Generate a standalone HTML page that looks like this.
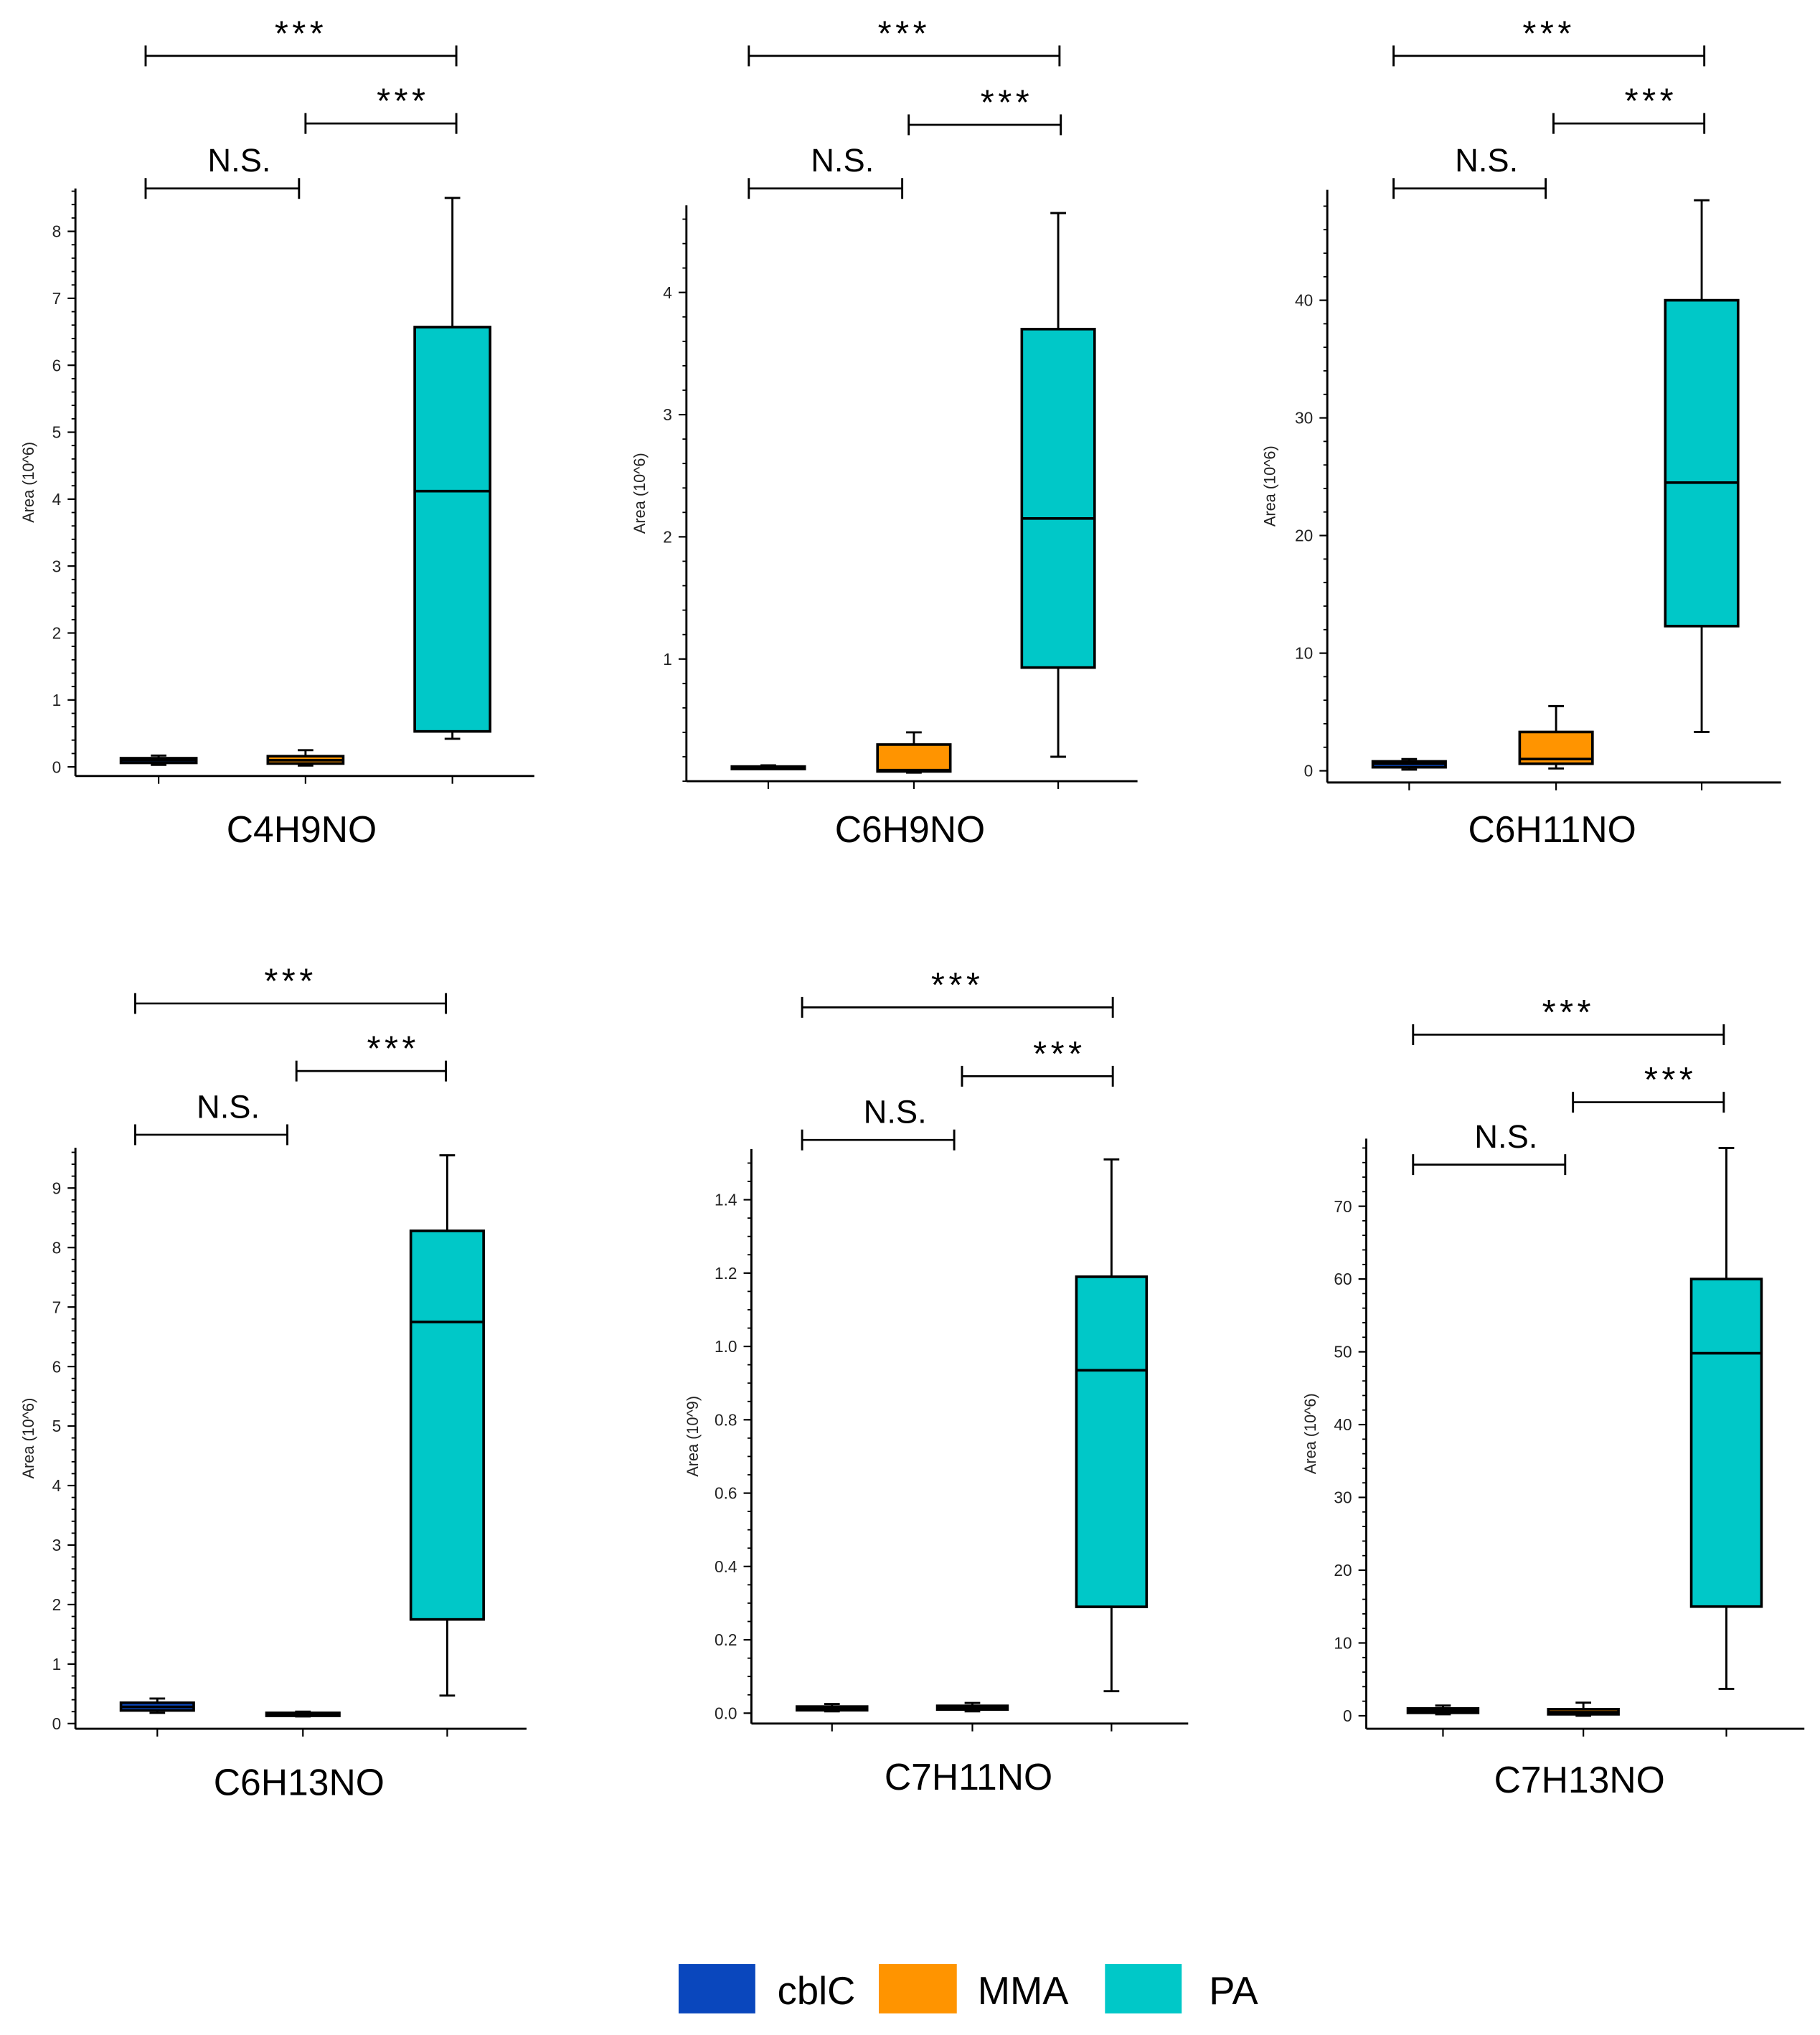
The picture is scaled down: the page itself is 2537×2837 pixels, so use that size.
<!DOCTYPE html>
<html><head><meta charset="utf-8">
<style>
html,body{margin:0;padding:0;background:#fff;}
svg{display:block;}
text{font-family:"Liberation Sans",sans-serif;}
</style></head>
<body>
<svg id="fig" width="2537" height="2837" viewBox="0 0 1400 1565.6" xmlns="http://www.w3.org/2000/svg">
<rect x="0" y="0" width="1400" height="1566" fill="#fff"/>
<g id="panels"></g>
<g>
  <rect x="522" y="1511" width="59" height="38" fill="#0a47bd"/>
  <text x="598" y="1542" font-size="30">cblC</text>
  <rect x="676" y="1511" width="60" height="38" fill="#ff9400"/>
  <text x="752" y="1542" font-size="30">MMA</text>
  <rect x="850" y="1511" width="59" height="38" fill="#00c8c8"/>
  <text x="930" y="1542" font-size="30">PA</text>
</g>
</svg>
<script>
// ---- data ----
const categories = ['cblC', 'MMA', 'PA'];
const panelTitles = ['C4H9NO', 'C6H9NO', 'C6H11NO', 'C6H13NO', 'C7H11NO', 'C7H13NO'];
const yAxisTitles = ['Area (10^6)', 'Area (10^6)', 'Area (10^6)', 'Area (10^6)', 'Area (10^9)', 'Area (10^6)'];
const whiskerLow = [[0.03, 0.02, 0.42], [0.1, 0.07, 0.2], [0.1, 0.2, 3.3], [0.18, 0.12, 0.47], [0.005, 0.005, 0.06], [0.2, 0.0, 3.7]];
const q1 = [[0.06, 0.05, 0.53], [0.1, 0.08, 0.93], [0.3, 0.6, 12.3], [0.22, 0.13, 1.75], [0.008, 0.01, 0.29], [0.4, 0.2, 15]];
const median = [[0.1, 0.1, 4.12], [0.11, 0.09, 2.15], [0.6, 1.0, 24.5], [0.28, 0.15, 6.75], [0.013, 0.015, 0.935], [0.7, 0.5, 49.8]];
const q3 = [[0.13, 0.16, 6.57], [0.12, 0.3, 3.7], [0.8, 3.3, 40], [0.35, 0.18, 8.28], [0.018, 0.02, 1.19], [1.0, 0.9, 60]];
const whiskerHigh = [[0.17, 0.25, 8.5], [0.13, 0.4, 4.65], [1.0, 5.5, 48.5], [0.42, 0.2, 9.55], [0.025, 0.028, 1.51], [1.4, 1.8, 78]];
const yTickValues = [[0,1,2,3,4,5,6,7,8], [1,2,3,4], [0,10,20,30,40], [0,1,2,3,4,5,6,7,8,9], [0,0.2,0.4,0.6,0.8,1.0,1.2,1.4], [0,10,20,30,40,50,60,70]];
const yTickLabels = [['0','1','2','3','4','5','6','7','8'], ['1','2','3','4'], ['0','10','20','30','40'], ['0','1','2','3','4','5','6','7','8','9'], ['0.0','0.2','0.4','0.6','0.8','1.0','1.2','1.4'], ['0','10','20','30','40','50','60','70']];
const minorStep = [0.2, 0.2, 2, 0.2, 0.05, 2];
const sigLabels = ['***', '***', 'N.S.'];

// ---- layout (pixel geometry, not data) ----
const layout = [
 {ax:58, top:145, xaxY:597, right:411, cx:[122,235,348], y0:590, yRefV:8, yRef:178, hw:29, lblX:22, titleY:648, br:[43,95,145], bx:[[112,351],[235,351],[112,230]], yDomMax:8.6},
 {ax:528, top:158, xaxY:601, right:875, cx:[591,703,814], y0:601, yRefV:4, yRef:225, hw:28, lblX:492, titleY:648, br:[43,96,145], bx:[[576,815],[699,816],[576,694]], yDomMax:4.7},
 {ax:1021, top:146, xaxY:602, right:1370, cx:[1084,1197,1309], y0:593, yRefV:40, yRef:231, hw:28, lblX:977, titleY:648, br:[43,95,145], bx:[[1072,1311],[1195,1311],[1072,1189]], yDomMax:49},
 {ax:58, top:883, xaxY:1330, right:405, cx:[121,233,344], y0:1326, yRefV:9, yRef:914, hw:28, lblX:22, titleY:1381, br:[772,824,873], bx:[[104,343],[228,343],[104,221]], yDomMax:9.7},
 {ax:578, top:884, xaxY:1326, right:914, cx:[640,748,855], y0:1318, yRefV:1.4, yRef:923, hw:27, lblX:533, titleY:1377, br:[775,828,877], bx:[[617,856],[740,856],[617,734]], yDomMax:1.53},
 {ax:1051, top:876, xaxY:1330, right:1388, cx:[1110,1218,1328], y0:1320, yRefV:70, yRef:928, hw:27, lblX:1008, titleY:1379, br:[796,848,896], bx:[[1087,1326],[1210,1326],[1087,1204]], yDomMax:79}
];
const colors = ['#0a47bd', '#ff9400', '#00c8c8'];
const NS = 'http://www.w3.org/2000/svg';
const root = document.getElementById('panels');

function mk(tag, attrs, parent) {
  const e = document.createElementNS(NS, tag);
  for (const k in attrs) e.setAttribute(k, attrs[k]);
  parent.appendChild(e);
  return e;
}

panelTitles.forEach((title, p) => {
  const L = layout[p];
  const yScale = v => L.y0 - (v / L.yRefV) * (L.y0 - L.yRef);
  const g = mk('g', {}, root);
  
  

  const yax = mk('g', {}, g);
  
  
  mk('line', {x1:L.ax, y1:L.top, x2:L.ax, y2:L.xaxY, stroke:'#000', 'stroke-width':1.6}, yax);
  const ms = minorStep[p];
  for (let v = 0; v <= L.yDomMax + 1e-9; v += ms) {
    const y = yScale(v);
    if (y < L.top || y > L.xaxY) continue;
    const m = mk('line', {x1:L.ax - 3, y1:y, x2:L.ax, y2:y, stroke:'#000', 'stroke-width':1}, yax);
    
    
  }
  yTickValues[p].forEach((v, i) => {
    const y = yScale(v);
    const t = mk('line', {x1:L.ax - 6, y1:y, x2:L.ax, y2:y, stroke:'#000', 'stroke-width':1.2}, yax);
    
    
    const tl = mk('text', {x:L.ax - 11, y:y + 4.5, 'font-size':12.5, 'text-anchor':'end', fill:'#222'}, yax);
    tl.textContent = yTickLabels[p][i];
    
    
  });
  const ylab = mk('text', {x:0, y:0, 'font-size':12, 'text-anchor':'middle', fill:'#222', transform:'translate(' + (L.lblX + 4) + ',' + ((L.top + L.xaxY) / 2) + ') rotate(-90)'}, yax);
  ylab.textContent = yAxisTitles[p];
  
  

  const xax = mk('g', {}, g);
  
  
  mk('line', {x1:L.ax, y1:L.xaxY, x2:L.right, y2:L.xaxY, stroke:'#000', 'stroke-width':1.6}, xax);
  L.cx.forEach(x => {
    const t = mk('line', {x1:x, y1:L.xaxY, x2:x, y2:L.xaxY + 6, stroke:'#000', 'stroke-width':1.2}, xax);
    
    
  });
  const tt = mk('text', {x:L.cx[1] - 3, y:L.titleY, 'font-size':28.5, 'text-anchor':'middle', fill:'#000'}, g);
  tt.textContent = title;
  
  

  categories.forEach((c, i) => {
    const bg = mk('g', {}, g);
    
    
    const x = L.cx[i], hw = L.hw;
    const yLo = yScale(whiskerLow[p][i]), yHi = yScale(whiskerHigh[p][i]);
    const yq1 = yScale(q1[p][i]), yq3 = yScale(q3[p][i]), ym = yScale(median[p][i]);
    mk('line', {x1:x, y1:yHi, x2:x, y2:yLo, stroke:'#000', 'stroke-width':1.6}, bg);
    mk('line', {x1:x - 6, y1:yHi, x2:x + 6, y2:yHi, stroke:'#000', 'stroke-width':1.6}, bg);
    mk('line', {x1:x - 6, y1:yLo, x2:x + 6, y2:yLo, stroke:'#000', 'stroke-width':1.6}, bg);
    const h = Math.max(yq1 - yq3, 1);
    mk('rect', {x:x - hw, y:yq3, width:2 * hw, height:h, fill:colors[i], stroke:'#000', 'stroke-width':2}, bg);
    mk('line', {x1:x - hw, y1:ym, x2:x + hw, y2:ym, stroke:'#000', 'stroke-width':2}, bg);
  });

  const labelShift = [0, 17, 13];
  [0, 1, 2].forEach(k => {
    const bk = mk('g', {}, g);
    
    
    const x1 = L.bx[k][0], x2 = L.bx[k][1];
    const y = L.br[k];
    mk('line', {x1:x1, y1:y, x2:x2, y2:y, stroke:'#000', 'stroke-width':1.5}, bk);
    mk('line', {x1:x1, y1:y - 8, x2:x1, y2:y + 8, stroke:'#000', 'stroke-width':1.6}, bk);
    mk('line', {x1:x2, y1:y - 8, x2:x2, y2:y + 8, stroke:'#000', 'stroke-width':1.6}, bk);
    const isNS = sigLabels[k] === 'N.S.';
    const tx = (x1 + x2) / 2 + labelShift[k];
    const lab = mk('text', {x:tx, y:isNS ? y - 13 : y - 8, 'font-size':isNS ? 25 : 27, 'text-anchor':'middle', fill:'#000', 'letter-spacing':isNS ? 0 : 3}, bk);
    lab.textContent = sigLabels[k];
    
    
  });
});
</script>
</body></html>
